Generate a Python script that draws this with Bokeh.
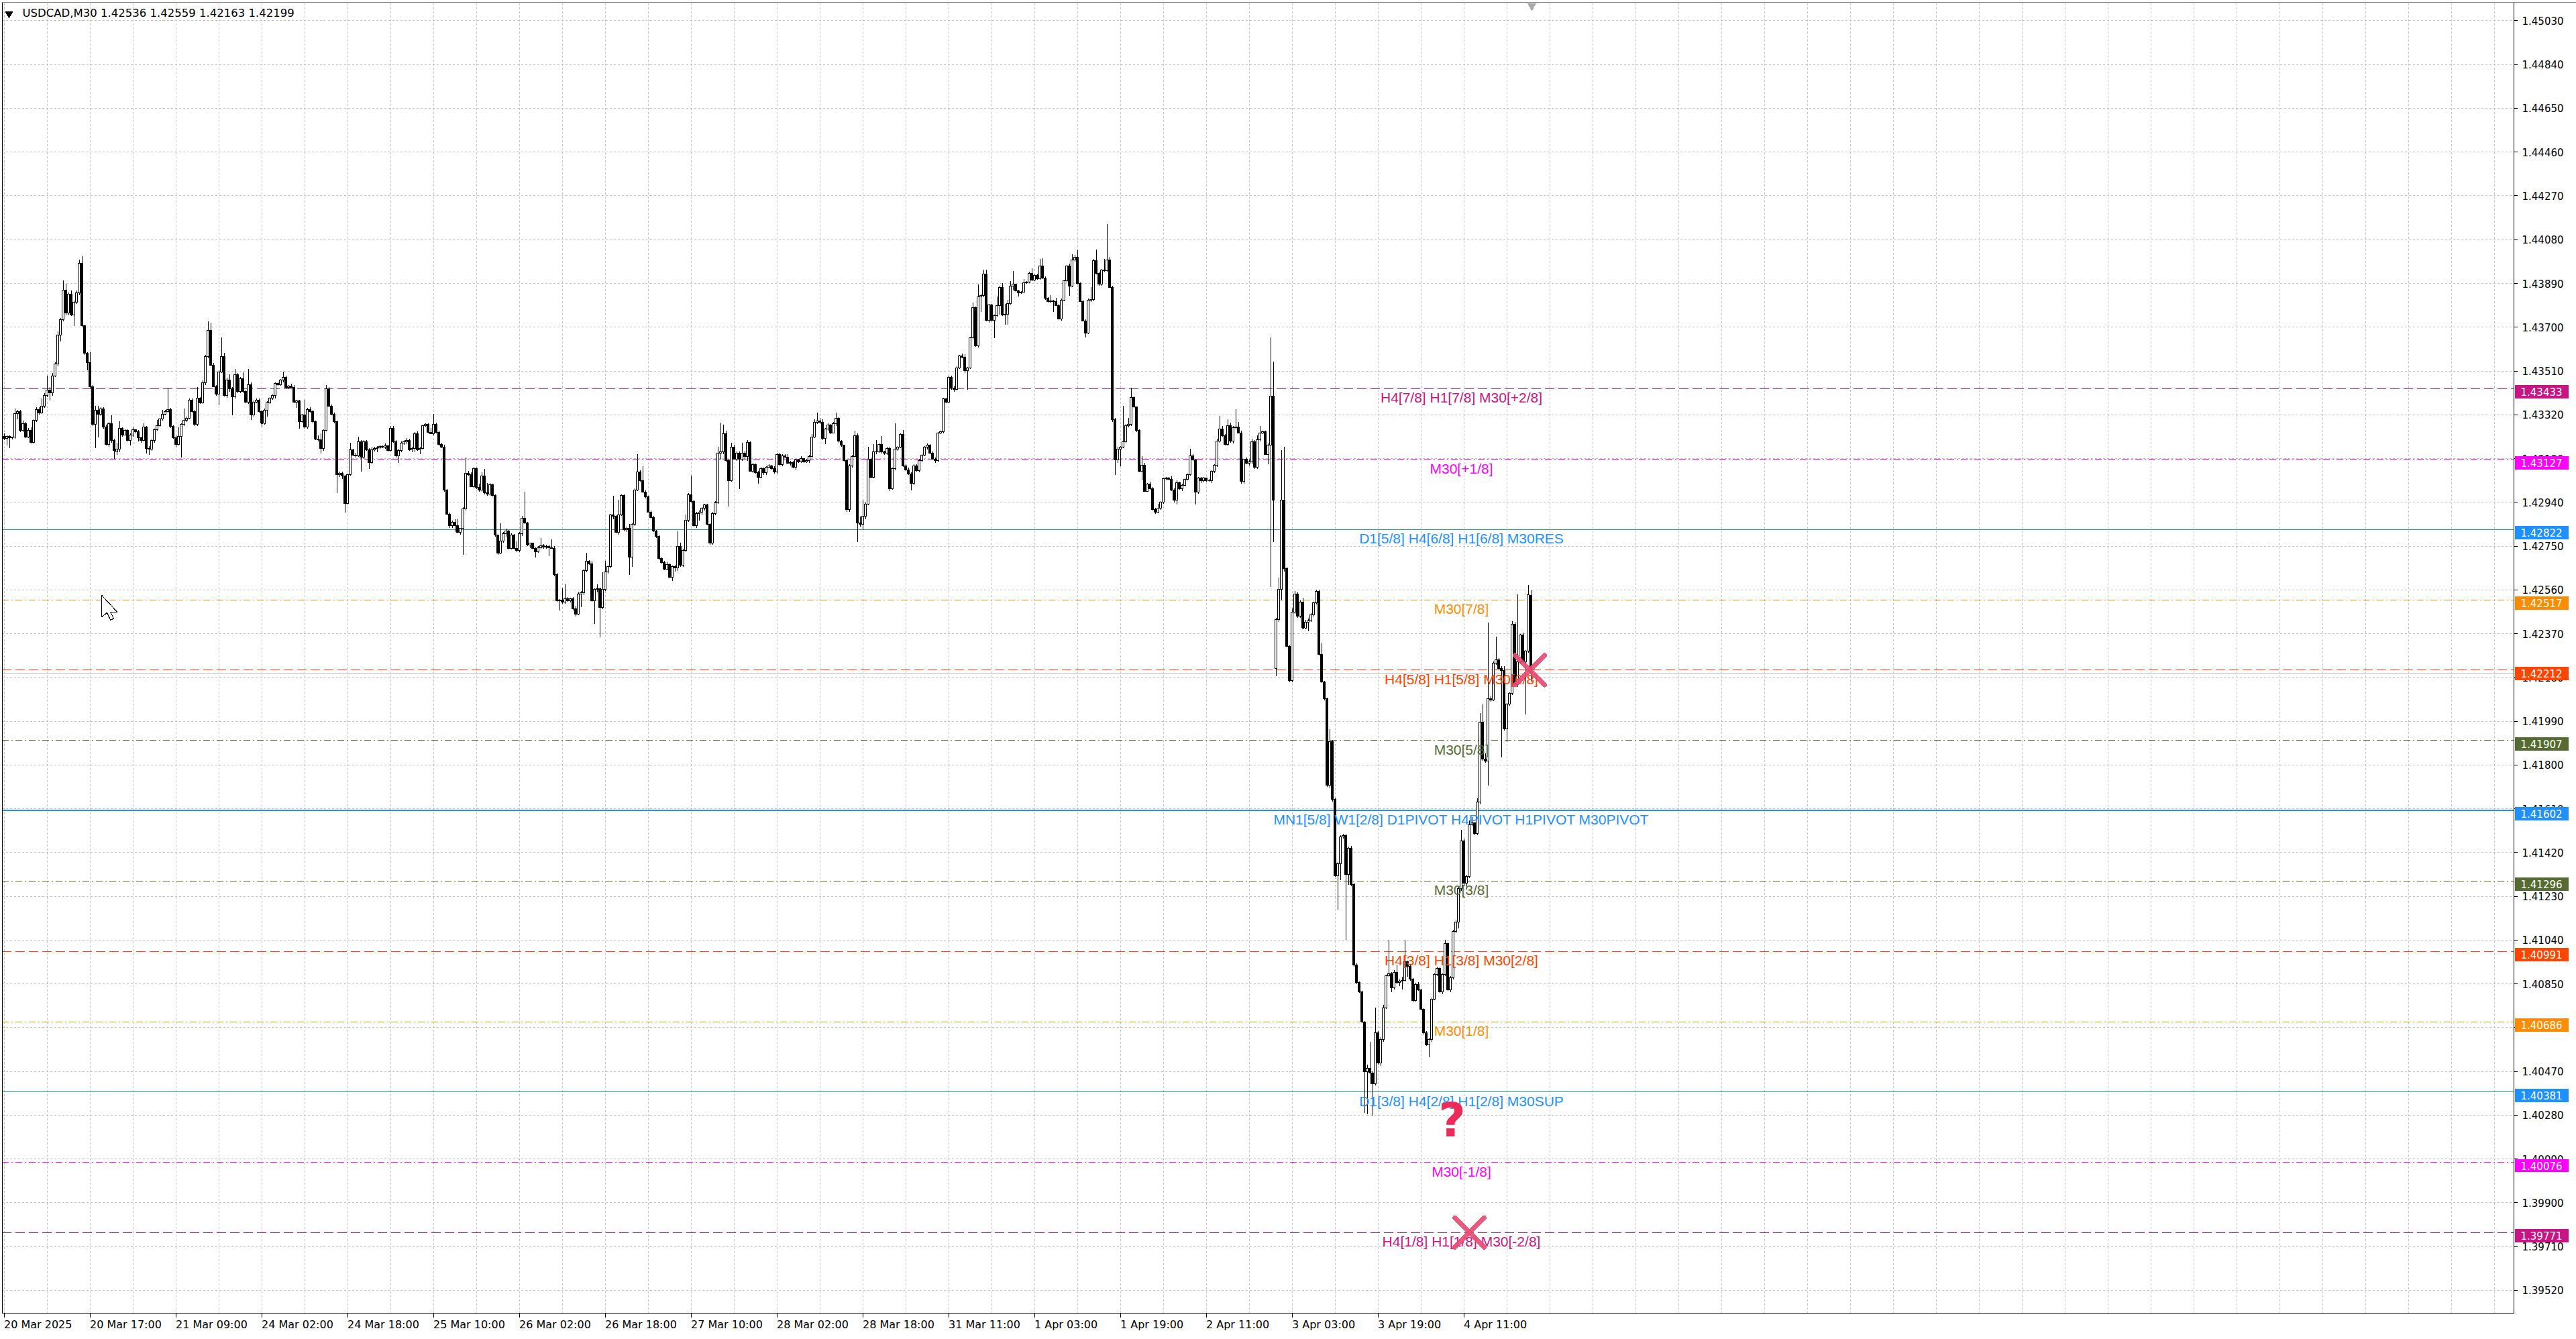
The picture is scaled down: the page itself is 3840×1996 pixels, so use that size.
import numpy as np
from bokeh.plotting import figure
from bokeh.models import (Range1d, FixedTicker, PrintfTickFormatter, Span, Label,
                          ColumnDataSource, BoxAnnotation, InlineStyleSheet)
from bokeh.core.properties import value
from bokeh.embed import file_html
from bokeh.resources import INLINE

# ---------------- data ----------------
TITLE = "USDCAD,M30  1.42536 1.42559 1.42163 1.42199"

# M30 bars, prices in points above 1.40000 (1 point = 0.00001)
BASE_PRICE = 1.40000
POINT = 0.00001

open_pts = [
    3226, 3218, 3226, 3220, 3223, 3326, 3333, 3253, 3283, 3224,
    3253, 3200, 3295, 3344, 3329, 3358, 3403, 3426, 3415, 3489,
    3541, 3666, 3732, 3860, 3763, 3843, 3752, 3809, 3849, 3977,
    3706, 3586, 3546, 3443, 3278, 3341, 3323, 3346, 3266, 3192,
    3283, 3209, 3160, 3170, 3261, 3232, 3252, 3209, 3232, 3255,
    3246, 3221, 3209, 3266, 3175, 3170, 3209, 3255, 3272, 3301,
    3323, 3335, 3344, 3269, 3221, 3192, 3225, 3278, 3295, 3306,
    3383, 3335, 3278, 3392, 3373, 3458, 3573, 3687, 3535, 3443,
    3409, 3506, 3573, 3403, 3470, 3432, 3398, 3495, 3420, 3478,
    3420, 3375, 3450, 3318, 3375, 3383, 3335, 3283, 3341, 3373,
    3392, 3403, 3455, 3449, 3470, 3483, 3438, 3446, 3440, 3375,
    3381, 3291, 3318, 3266, 3344, 3333, 3289, 3215, 3212, 3175,
    3253, 3432, 3358, 3323, 3289, 3061, 3067, 3055, 2935, 3061,
    3169, 3146, 3143, 3204, 3135, 3204, 3169, 3112, 3169, 3173,
    3177, 3184, 3180, 3186, 3164, 3261, 3204, 3141, 3166, 3198,
    3204, 3209, 3169, 3175, 3238, 3169, 3175, 3272, 3278, 3244,
    3238, 3278, 3244, 3192, 3181, 2992, 2889, 2838, 2855, 2838,
    2809, 2827, 2912, 3067, 3061, 3009, 3086, 3004, 2992, 3055,
    2981, 2975, 3017, 2969, 2798, 2720, 2773, 2803, 2815, 2740,
    2797, 2740, 2732, 2803, 2872, 2850, 2756, 2762, 2741, 2726,
    2744, 2752, 2746, 2750, 2744, 2741, 2626, 2513, 2517, 2506,
    2522, 2513, 2522, 2478, 2454, 2543, 2549, 2643, 2685, 2673,
    2513, 2561, 2566, 2484, 2561, 2637, 2661, 2886, 2880, 2809,
    2886, 2969, 2821, 2827, 2702, 2844, 2994, 3072, 3034, 2986,
    2963, 2898, 2874, 2815, 2791, 2697, 2679, 2649, 2671, 2614,
    2661, 2655, 2750, 2667, 2732, 2862, 2974, 2945, 2838, 2892,
    2898, 2915, 2928, 2844, 2762, 2892, 2939, 3152, 3158, 3238,
    3122, 3034, 3181, 3128, 3152, 3128, 3152, 3140, 3199, 3075,
    3104, 3069, 3049, 3087, 3069, 3093, 3098, 3087, 3071, 3148,
    3104, 3143, 3136, 3110, 3113, 3093, 3124, 3116, 3130, 3116,
    3122, 3140, 3223, 3288, 3294, 3288, 3217, 3258, 3276, 3240,
    3282, 3305, 3205, 3187, 3122, 2909, 3098, 3140, 3229, 2850,
    2844, 2880, 2933, 3128, 3049, 3158, 3160, 3191, 3158, 3152,
    3175, 3000, 3087, 3172, 3181, 3234, 3098, 3081, 3063, 3022,
    3098, 3077, 3122, 3146, 3181, 3187, 3152, 3128, 3122, 3240,
    3246, 3388, 3376, 3483, 3435, 3430, 3524, 3577, 3571, 3512,
    3522, 3654, 3784, 3619, 3831, 3837, 3932, 3731, 3796, 3731,
    3750, 3793, 3873, 3754, 3756, 3802, 3879, 3886, 3857, 3850,
    3853, 3892, 3895, 3935, 3905, 3924, 3909, 3966, 3912, 3825,
    3812, 3815, 3812, 3795, 3737, 3818, 3901, 3966, 3879, 3992,
    4005, 3890, 3812, 3728, 3675, 3818, 3821, 3989, 3935, 3886,
    3948, 3944, 3993, 3873, 3298, 3123, 3171, 3181, 3203, 3274,
    3278, 3395, 3353, 3252, 3074, 3100, 2988, 3020, 3000, 2910,
    2897, 2914, 2940, 3042, 3046, 3040, 2994, 2949, 3026, 3000,
    3013, 3039, 3059, 3143, 3123, 2984, 3046, 3033, 3046, 3035,
    3035, 3074, 3100, 3207, 3259, 3229, 3190, 3272, 3207, 3263,
    3268, 3242, 3030, 3126, 3110, 3117, 3203, 3091, 3211, 3240,
    3246, 3149, 3188, 3401, 2218, 2432, 2561, 2949, 2652, 2315,
    2167, 2464, 2542, 2445, 2508, 2395, 2420, 2426, 2452, 2503,
    2554, 2280, 2160, 2087, 1713, 1902, 1651, 1320, 1371, 1487,
    1494, 1325, 1440, 1282, 932, 855, 816, 686, 470, 485,
    462, 416, 639, 508, 608, 747, 886, 893, 832, 901,
    855, 863, 866, 947, 927, 870, 778, 847, 824, 740,
    639, 585, 608, 783, 890, 917, 816, 890, 1024, 824,
    878, 1078, 1117, 1263, 1471, 1286, 1317, 1540, 1548, 1502,
    1640, 1987, 1825, 1818, 2087, 2083, 2241, 2257, 2218, 2210,
    1956, 2064, 2110, 2411, 2149, 2249, 2365, 2249, 2295, 2536,
]

high_pts = [
    3238, 3230, 3232, 3226, 3346, 3340, 3340, 3295, 3290, 3262,
    3266, 3300, 3352, 3352, 3392, 3415, 3491, 3440, 3500, 3548,
    3683, 3740, 3903, 3889, 3850, 3860, 3815, 3860, 3992, 4009,
    3712, 3592, 3592, 3450, 3358, 3358, 3352, 3352, 3278, 3290,
    3318, 3215, 3198, 3291, 3266, 3258, 3256, 3238, 3266, 3258,
    3255, 3226, 3283, 3272, 3185, 3215, 3261, 3298, 3306, 3341,
    3340, 3438, 3350, 3275, 3230, 3266, 3283, 3346, 3312, 3392,
    3390, 3340, 3440, 3398, 3470, 3580, 3726, 3720, 3546, 3450,
    3512, 3657, 3590, 3480, 3495, 3440, 3518, 3500, 3483, 3503,
    3426, 3520, 3460, 3381, 3392, 3392, 3340, 3346, 3380, 3398,
    3409, 3460, 3462, 3475, 3506, 3490, 3450, 3455, 3450, 3385,
    3385, 3325, 3386, 3350, 3352, 3340, 3295, 3232, 3240, 3258,
    3449, 3440, 3365, 3330, 3295, 3072, 3072, 3060, 3066, 3200,
    3172, 3155, 3225, 3210, 3210, 3210, 3175, 3180, 3180, 3185,
    3190, 3188, 3195, 3190, 3270, 3272, 3210, 3172, 3205, 3210,
    3220, 3215, 3180, 3245, 3248, 3180, 3278, 3283, 3283, 3262,
    3323, 3285, 3250, 3198, 3190, 2998, 2895, 2862, 2868, 2866,
    2830, 2920, 3135, 3075, 3070, 3095, 3092, 3020, 3070, 3084,
    3025, 3025, 3020, 2975, 2800, 2850, 2810, 2825, 2820, 2805,
    2803, 2770, 2810, 2880, 2985, 2856, 2765, 2765, 2745, 2750,
    2785, 2760, 2755, 2755, 2779, 2750, 2635, 2520, 2566, 2584,
    2530, 2525, 2530, 2490, 2549, 2555, 2650, 2720, 2690, 2685,
    2566, 2584, 2570, 2637, 2685, 2665, 2890, 2969, 2885, 2951,
    2975, 2975, 2835, 2845, 2850, 3000, 3149, 3080, 3098, 2992,
    2970, 2905, 2880, 2820, 2800, 2702, 2685, 2680, 2675, 2665,
    2668, 2815, 2765, 2740, 2886, 2980, 3057, 2950, 2898, 2905,
    2920, 2935, 2935, 2850, 2900, 2945, 3181, 3285, 3276, 3250,
    3130, 3200, 3190, 3160, 3160, 3199, 3165, 3211, 3205, 3110,
    3108, 3075, 3095, 3090, 3098, 3105, 3102, 3097, 3155, 3155,
    3150, 3150, 3148, 3120, 3120, 3130, 3130, 3140, 3132, 3128,
    3145, 3235, 3300, 3329, 3305, 3300, 3262, 3282, 3280, 3290,
    3329, 3310, 3211, 3190, 3128, 3104, 3145, 3252, 3240, 2878,
    2951, 2940, 3181, 3135, 3193, 3211, 3195, 3229, 3165, 3180,
    3180, 3092, 3282, 3185, 3240, 3255, 3104, 3090, 3070, 3104,
    3104, 3128, 3150, 3185, 3195, 3192, 3162, 3134, 3245, 3250,
    3395, 3395, 3490, 3490, 3445, 3530, 3580, 3585, 3583, 3528,
    3660, 3808, 3790, 3885, 3845, 3950, 3950, 3800, 3802, 3755,
    3834, 3880, 3892, 3802, 3818, 3899, 3944, 3890, 3862, 3856,
    3908, 3899, 3940, 3955, 3930, 3932, 3995, 3998, 3922, 3830,
    3840, 3818, 3828, 3802, 3825, 3905, 3970, 3975, 4017, 4015,
    4034, 3895, 3820, 3735, 3825, 3873, 3995, 4037, 3942, 3952,
    3995, 4147, 4005, 3880, 3307, 3180, 3185, 3358, 3280, 3307,
    3436, 3400, 3355, 3258, 3139, 3110, 3025, 3030, 3005, 2915,
    2935, 2945, 3048, 3050, 3050, 3052, 3000, 3035, 3030, 3020,
    3045, 3065, 3172, 3150, 3130, 3050, 3050, 3050, 3048, 3040,
    3080, 3105, 3215, 3314, 3270, 3235, 3300, 3285, 3270, 3343,
    3290, 3250, 3130, 3135, 3125, 3215, 3210, 3230, 3270, 3252,
    3250, 3195, 3656, 3552, 2440, 2613, 3168, 3181, 2660, 2320,
    2480, 2555, 2550, 2515, 2525, 2430, 2435, 2460, 2510, 2560,
    2560, 2329, 2165, 2092, 1956, 1910, 1655, 1378, 1495, 1500,
    1500, 1445, 1448, 1290, 940, 860, 820, 690, 500, 600,
    470, 747, 645, 620, 760, 890, 1040, 900, 910, 930,
    870, 880, 1040, 950, 935, 875, 855, 858, 830, 745,
    645, 615, 790, 895, 925, 922, 895, 1040, 1030, 885,
    1085, 1125, 1270, 1520, 1480, 1325, 1560, 1575, 1552, 1655,
    2025, 2064, 1850, 2418, 2100, 2250, 2357, 2265, 2230, 2230,
    2070, 2115, 2425, 2420, 2542, 2370, 2375, 2300, 2580, 2559,
]

low_pts = [
    3209, 3186, 3175, 3212, 3215, 3300, 3244, 3245, 3218, 3218,
    3196, 3195, 3290, 3320, 3325, 3350, 3398, 3381, 3403, 3483,
    3530, 3638, 3725, 3752, 3752, 3748, 3706, 3800, 3840, 3700,
    3580, 3512, 3435, 3270, 3175, 3221, 3315, 3260, 3186, 3180,
    3200, 3129, 3146, 3158, 3226, 3230, 3204, 3186, 3226, 3240,
    3204, 3200, 3204, 3152, 3146, 3165, 3198, 3250, 3268, 3295,
    3318, 3330, 3263, 3215, 3181, 3186, 3135, 3272, 3290, 3300,
    3330, 3272, 3272, 3366, 3366, 3450, 3565, 3530, 3440, 3403,
    3363, 3500, 3400, 3395, 3420, 3318, 3390, 3415, 3415, 3415,
    3370, 3366, 3298, 3312, 3370, 3330, 3266, 3278, 3312, 3366,
    3386, 3392, 3445, 3445, 3460, 3432, 3432, 3438, 3370, 3349,
    3261, 3285, 3261, 3260, 3330, 3284, 3210, 3205, 3152, 3165,
    3248, 3352, 3318, 3284, 2981, 3050, 3040, 2895, 2930, 3055,
    3140, 3135, 3138, 3072, 3128, 3165, 3084, 3105, 3160, 3158,
    3172, 3175, 3172, 3160, 3160, 3200, 3135, 3112, 3158, 3190,
    3192, 3165, 3158, 3158, 3165, 3150, 3170, 3268, 3240, 3235,
    3232, 3240, 3185, 3175, 2985, 2885, 2830, 2830, 2812, 2805,
    2800, 2712, 2905, 3055, 3005, 3000, 2998, 2985, 2985, 2975,
    2970, 2970, 2965, 2790, 2712, 2715, 2765, 2790, 2735, 2735,
    2735, 2725, 2725, 2795, 2845, 2750, 2742, 2735, 2702, 2720,
    2740, 2740, 2740, 2708, 2738, 2620, 2510, 2472, 2500, 2500,
    2508, 2505, 2472, 2445, 2450, 2484, 2538, 2638, 2668, 2510,
    2413, 2550, 2354, 2478, 2555, 2630, 2655, 2866, 2805, 2800,
    2880, 2815, 2810, 2626, 2660, 2838, 2990, 3030, 2980, 2958,
    2895, 2870, 2810, 2785, 2690, 2675, 2645, 2645, 2610, 2600,
    2640, 2643, 2660, 2660, 2725, 2855, 2940, 2835, 2830, 2860,
    2885, 2905, 2840, 2755, 2755, 2885, 2935, 3125, 3150, 3115,
    2921, 3030, 3125, 3120, 2998, 3120, 3125, 3120, 3072, 3068,
    3066, 3022, 3045, 3060, 3058, 3088, 3082, 3065, 3065, 3100,
    3098, 3132, 3105, 3100, 3088, 3080, 3112, 3112, 3110, 3112,
    3110, 3135, 3218, 3280, 3280, 3210, 3193, 3250, 3235, 3238,
    3270, 3200, 3180, 3116, 2898, 2900, 3092, 3135, 2767, 2835,
    2820, 2868, 2928, 3045, 3043, 3148, 3155, 3152, 3145, 3145,
    2990, 2994, 3080, 3165, 3175, 3095, 3075, 3060, 2992, 3015,
    3072, 3070, 3115, 3140, 3170, 3150, 3125, 3110, 3115, 3235,
    3240, 3370, 3370, 3430, 3420, 3425, 3518, 3565, 3500, 3430,
    3518, 3648, 3615, 3612, 3765, 3830, 3725, 3720, 3725, 3653,
    3745, 3756, 3750, 3711, 3711, 3798, 3860, 3855, 3834, 3845,
    3850, 3888, 3892, 3900, 3900, 3905, 3905, 3908, 3820, 3808,
    3805, 3767, 3792, 3735, 3728, 3812, 3895, 3837, 3875, 3985,
    3885, 3810, 3725, 3656, 3670, 3810, 3812, 3930, 3880, 3880,
    3940, 3940, 3870, 3290, 3059, 3110, 3097, 3175, 3198, 3265,
    3272, 3350, 3245, 3070, 3035, 2985, 2985, 2995, 2905, 2890,
    2893, 2908, 2935, 3035, 3036, 2990, 2940, 2930, 2995, 2990,
    3008, 3035, 3055, 3120, 2932, 2978, 3025, 3028, 3030, 3030,
    3025, 3068, 3095, 3200, 3225, 3188, 3185, 3200, 3195, 3258,
    3238, 3020, 3020, 3105, 3100, 3105, 3085, 3085, 3205, 3235,
    3145, 3104, 2574, 2768, 2186, 2420, 2515, 2640, 2310, 2160,
    2160, 2455, 2440, 2438, 2390, 2388, 2380, 2420, 2445, 2498,
    2275, 2155, 2080, 1705, 1700, 1640, 1315, 1171, 1300, 1480,
    1040, 1280, 1275, 925, 850, 810, 680, 290, 285, 416,
    277, 410, 500, 495, 600, 740, 880, 815, 825, 850,
    840, 825, 860, 880, 865, 770, 772, 820, 735, 630,
    580, 532, 600, 778, 885, 810, 805, 885, 820, 815,
    870, 1070, 1090, 1255, 1280, 1260, 1310, 1535, 1495, 1495,
    1630, 1820, 1810, 1710, 2075, 2078, 2236, 2215, 1833, 1950,
    1900, 2058, 2105, 2145, 2140, 2240, 2240, 2018, 2288, 2163,
]

close_pts = [
    3218, 3226, 3220, 3223, 3326, 3333, 3253, 3283, 3224, 3253,
    3200, 3295, 3344, 3329, 3358, 3403, 3426, 3415, 3489, 3541,
    3666, 3732, 3860, 3763, 3843, 3752, 3809, 3849, 3977, 3706,
    3586, 3546, 3443, 3278, 3341, 3323, 3346, 3266, 3192, 3283,
    3209, 3164, 3170, 3261, 3232, 3252, 3209, 3232, 3255, 3246,
    3221, 3209, 3266, 3175, 3170, 3209, 3255, 3272, 3301, 3323,
    3335, 3344, 3269, 3221, 3192, 3225, 3278, 3295, 3306, 3383,
    3335, 3278, 3392, 3373, 3458, 3573, 3687, 3535, 3443, 3409,
    3506, 3573, 3403, 3470, 3432, 3398, 3495, 3420, 3478, 3420,
    3375, 3450, 3318, 3375, 3383, 3335, 3283, 3341, 3373, 3392,
    3403, 3455, 3449, 3470, 3483, 3438, 3446, 3440, 3375, 3381,
    3291, 3318, 3266, 3344, 3333, 3289, 3215, 3212, 3175, 3253,
    3432, 3358, 3323, 3289, 3061, 3067, 3055, 2935, 3061, 3169,
    3146, 3143, 3204, 3135, 3204, 3169, 3112, 3169, 3173, 3177,
    3184, 3180, 3186, 3164, 3261, 3204, 3141, 3166, 3198, 3204,
    3209, 3169, 3175, 3238, 3169, 3175, 3272, 3278, 3244, 3238,
    3278, 3244, 3192, 3181, 2992, 2889, 2838, 2855, 2838, 2809,
    2827, 2912, 3067, 3061, 3009, 3086, 3004, 2992, 3055, 2981,
    2975, 3017, 2969, 2798, 2720, 2773, 2803, 2815, 2740, 2797,
    2740, 2732, 2803, 2872, 2850, 2756, 2762, 2741, 2726, 2744,
    2752, 2746, 2750, 2744, 2741, 2626, 2513, 2517, 2506, 2522,
    2513, 2522, 2478, 2454, 2543, 2549, 2643, 2685, 2673, 2513,
    2561, 2566, 2484, 2561, 2637, 2661, 2886, 2880, 2809, 2886,
    2969, 2821, 2827, 2702, 2844, 2994, 3072, 3034, 2986, 2963,
    2898, 2874, 2815, 2791, 2697, 2679, 2649, 2671, 2614, 2661,
    2655, 2750, 2667, 2732, 2862, 2974, 2945, 2838, 2892, 2898,
    2915, 2928, 2844, 2762, 2892, 2939, 3152, 3158, 3238, 3122,
    3034, 3181, 3128, 3152, 3128, 3152, 3140, 3199, 3075, 3104,
    3069, 3049, 3087, 3069, 3093, 3098, 3087, 3071, 3148, 3104,
    3143, 3136, 3110, 3113, 3093, 3124, 3116, 3130, 3116, 3122,
    3140, 3223, 3288, 3294, 3288, 3217, 3258, 3276, 3240, 3282,
    3305, 3205, 3187, 3122, 2909, 3098, 3140, 3229, 2850, 2844,
    2880, 2933, 3128, 3049, 3158, 3160, 3191, 3158, 3152, 3175,
    3000, 3087, 3172, 3181, 3234, 3098, 3081, 3063, 3022, 3098,
    3077, 3122, 3146, 3181, 3187, 3152, 3128, 3122, 3240, 3246,
    3388, 3376, 3483, 3435, 3430, 3524, 3577, 3571, 3512, 3522,
    3654, 3784, 3619, 3831, 3837, 3932, 3731, 3796, 3731, 3750,
    3793, 3873, 3754, 3756, 3802, 3879, 3886, 3857, 3850, 3853,
    3892, 3895, 3935, 3905, 3924, 3909, 3966, 3912, 3825, 3812,
    3815, 3812, 3795, 3737, 3818, 3901, 3966, 3879, 3992, 4005,
    3890, 3812, 3728, 3675, 3818, 3821, 3989, 3935, 3886, 3948,
    3944, 3993, 3873, 3298, 3123, 3171, 3181, 3203, 3274, 3278,
    3395, 3353, 3252, 3074, 3100, 2988, 3020, 3000, 2910, 2897,
    2914, 2940, 3042, 3046, 3040, 2994, 2949, 3026, 3000, 3013,
    3039, 3059, 3143, 3123, 2984, 3046, 3033, 3046, 3035, 3035,
    3074, 3100, 3207, 3259, 3229, 3190, 3272, 3207, 3263, 3268,
    3242, 3030, 3126, 3110, 3117, 3203, 3091, 3211, 3240, 3246,
    3149, 3188, 3401, 2949, 2432, 2561, 2949, 2652, 2315, 2167,
    2464, 2542, 2445, 2508, 2395, 2420, 2426, 2452, 2503, 2554,
    2280, 2160, 2087, 1713, 1902, 1651, 1320, 1371, 1487, 1494,
    1325, 1440, 1282, 932, 855, 816, 686, 470, 485, 462,
    416, 639, 508, 608, 747, 886, 893, 832, 901, 855,
    863, 866, 947, 927, 870, 778, 847, 824, 740, 639,
    585, 608, 783, 890, 917, 816, 890, 1024, 824, 878,
    1078, 1117, 1263, 1471, 1286, 1317, 1540, 1548, 1502, 1640,
    1987, 1825, 1818, 2087, 2083, 2241, 2257, 2218, 2210, 1956,
    2064, 2110, 2411, 2149, 2249, 2365, 2249, 2295, 2539, 2199,
]

# time axis: one label every 32 bars, starting at the first bar
time_labels = [
    "20 Mar 2025", "20 Mar 17:00", "21 Mar 09:00", "24 Mar 02:00", "24 Mar 18:00",
    "25 Mar 10:00", "26 Mar 02:00", "26 Mar 18:00", "27 Mar 10:00", "28 Mar 02:00",
    "28 Mar 18:00", "31 Mar 11:00", "1 Apr 03:00", "1 Apr 19:00", "2 Apr 11:00",
    "3 Apr 03:00", "3 Apr 19:00", "4 Apr 11:00",
]
BARS_PER_LABEL = 32
BARS_PER_VGRID = 16

price_ticks = [
    1.39520, 1.39710, 1.39900, 1.40090, 1.40280, 1.40470, 1.40660, 1.40850,
    1.41040, 1.41230, 1.41420, 1.41610, 1.41800, 1.41990, 1.42180, 1.42370,
    1.42560, 1.42750, 1.42940, 1.43130, 1.43320, 1.43510, 1.43700, 1.43890,
    1.44080, 1.44270, 1.44460, 1.44650, 1.44840, 1.45030,
]

# Murrey Math levels
level_prices = [1.43433, 1.43127, 1.42822, 1.42517, 1.42212, 1.41907, 1.41602,
                1.41296, 1.40991, 1.40686, 1.40381, 1.40076, 1.39771]
level_texts = [
    "H4[7/8] H1[7/8] M30[+2/8]",
    "M30[+1/8]",
    "D1[5/8] H4[6/8] H1[6/8] M30RES",
    "M30[7/8]",
    "H4[5/8] H1[5/8] M30[6/8]",
    "M30[5/8]",
    "MN1[5/8] W1[2/8] D1PIVOT H4PIVOT H1PIVOT M30PIVOT",
    "M30[3/8]",
    "H4[3/8] H1[3/8] M30[2/8]",
    "M30[1/8]",
    "D1[3/8] H4[2/8] H1[2/8] M30SUP",
    "M30[-1/8]",
    "H4[1/8] H1[1/8] M30[-2/8]",
]
bid_price = 1.42199

# ---------------- styles ----------------
VIOLET, MAGENTA, BLUE = "#C71585", "#FF00FF", "#1E90FF"
ORANGE, RED_ORANGE, OLIVE = "#FF8C00", "#FF4500", "#556B2F"
DASH, DASHDOT, SOLID = "14 6", "10 4 2 4", "solid"
level_styles = [
    (VIOLET, DASH, 1), (MAGENTA, DASHDOT, 1), (BLUE, SOLID, 1), (ORANGE, DASHDOT, 1),
    (RED_ORANGE, DASH, 1), (OLIVE, DASHDOT, 1), (BLUE, SOLID, 2), (OLIVE, DASHDOT, 1),
    (RED_ORANGE, DASH, 1), (ORANGE, DASHDOT, 1), (BLUE, SOLID, 1), (MAGENTA, DASHDOT, 1),
    (VIOLET, DASH, 1),
]
UI_FONT = "DejaVu Sans"
OBJ_FONT = "Liberation Sans"

# ---------------- page geometry ----------------
W, H = 3840, 1996
FRAME_L, FRAME_T, FRAME_B = 2, 3, 1960
AXIS_PX = 3747            # price scale line
TAG_L_PX, TAG_R_PX, TAG_TEXT_PX = 3748, 3828, 3757
TAG_ABOVE_PX, TAG_BELOW_PX = 5, 15
BAR_PX = 4.0
X_START = -0.875
REF_PRICE, REF_PY, PX_PER_PRICE = 1.45030, 30.5, 34400.0


def px_to_x(px):
    return X_START + (px - FRAME_L) / BAR_PX


def py_to_price(py):
    return REF_PRICE - (py - REF_PY) / PX_PER_PRICE


n = min(len(open_pts), len(high_pts), len(low_pts), len(close_pts))
o = BASE_PRICE + np.array(open_pts[:n], dtype=float) * POINT
c = BASE_PRICE + np.array(close_pts[:n], dtype=float) * POINT
hi = np.maximum.reduce([BASE_PRICE + np.array(high_pts[:n], dtype=float) * POINT, o, c])
lo = np.minimum.reduce([BASE_PRICE + np.array(low_pts[:n], dtype=float) * POINT, o, c])
idx = np.arange(n)
bull = c >= o

# the frame runs to the window edge; the price scale sits inside it at AXIS_PX
p = figure(
    width=W, height=H,
    x_range=Range1d(X_START, px_to_x(W)),
    y_range=Range1d(py_to_price(FRAME_B), py_to_price(FRAME_T)),
    y_axis_location="right",
    output_backend="svg", toolbar_location=None,
    min_border_left=FRAME_L, min_border_right=0,
    min_border_top=FRAME_T, min_border_bottom=H - FRAME_B,
    background_fill_color="white", border_fill_color="white",
    outline_line_color=None,
)
# pixel-aligned strokes, like a terminal chart
p.stylesheets = [InlineStyleSheet(css=":host { shape-rendering: crispEdges; }")]

# grid
p.xgrid.ticker = FixedTicker(ticks=list(range(0, int(px_to_x(AXIS_PX)) + 1, BARS_PER_VGRID)))
p.ygrid.ticker = FixedTicker(ticks=price_ticks)
for g in (p.xgrid, p.ygrid):
    g.grid_line_color = "#C0C0C0"
    g.grid_line_dash = "3 3"
    g.grid_line_width = 1

# price scale
yax = p.yaxis[0]
yax.fixed_location = px_to_x(AXIS_PX)
yax.ticker = FixedTicker(ticks=price_ticks)
yax.formatter = PrintfTickFormatter(format="%.5f")
yax.major_label_text_font = UI_FONT
yax.major_label_text_font_size = "15px"
yax.major_label_text_color = "black"
yax.major_tick_out = 5
yax.major_tick_in = 0
yax.minor_tick_out = 0
yax.minor_tick_in = 0
yax.major_label_standoff = 7
yax.axis_line_color = "black"
yax.major_tick_line_color = "black"

# time scale: each date text starts at its tick (a tiny negative angle left-aligns it)
time_ticks = [k * BARS_PER_LABEL for k in range(len(time_labels))]
xax = p.xaxis[0]
xax.bounds = (X_START, px_to_x(AXIS_PX))
xax.ticker = FixedTicker(ticks=time_ticks)
xax.major_label_overrides = {t: s for t, s in zip(time_ticks, time_labels)}
xax.major_label_orientation = -1e-4
xax.major_label_text_font = UI_FONT
xax.major_label_text_font_size = "16px"
xax.major_label_text_color = "black"
xax.major_label_standoff = 11
xax.major_tick_out = 6
xax.major_tick_in = 0
xax.minor_tick_out = 0
xax.minor_tick_in = 0
xax.axis_line_color = "black"
xax.major_tick_line_color = "black"

# level lines behind the bars
for price, (col, dash, lw) in zip(level_prices, level_styles):
    p.add_layout(Span(location=price, dimension="width", line_color=col,
                      line_dash=dash, line_width=lw, level="underlay"))
p.add_layout(Span(location=bid_price, dimension="width", line_color="#C0C0C0",
                  line_width=1, level="underlay"))

# blank price-scale strip right of the scale line
p.add_layout(BoxAnnotation(left=px_to_x(AXIS_PX), fill_color="white", fill_alpha=1.0,
                           line_color=None, level="underlay"))

# window borders (left and top)
p.add_layout(Span(location=px_to_x(FRAME_L + 0.5), dimension="height",
                  line_color="black", line_width=1, level="underlay"))
p.add_layout(Span(location=py_to_price(FRAME_T + 0.5), dimension="width",
                  line_color="black", line_width=1, level="underlay"))

# candles
candles = ColumnDataSource(dict(
    x=idx, high=hi, low=lo,
    top=np.maximum(o, c), bottom=np.minimum(o, c),
    fill=np.where(bull, "white", "black"),
))
p.segment(x0="x", y0="low", x1="x", y1="high", source=candles,
          line_color="black", line_width=1)
p.vbar(x="x", width=0.75, top="top", bottom="bottom", source=candles,
       fill_color="fill", line_color="black", line_width=1)

# level captions
LABEL_CENTER_PX = 2178
captions = ColumnDataSource(dict(
    x=[px_to_x(LABEL_CENTER_PX)] * len(level_prices),
    y=level_prices,
    text=level_texts,
    color=[s[0] for s in level_styles],
))
p.text(x="x", y="y", text="text", source=captions, text_color="color",
       text_font=value(OBJ_FONT), text_font_size="21px",
       text_align="center", text_baseline="top", y_offset=2)

# price tags on the scale (drawn above the scale's own labels)
lv = np.array(level_prices)
tags = ColumnDataSource(dict(
    left=[px_to_x(TAG_L_PX)] * len(lv),
    right=[px_to_x(TAG_R_PX)] * len(lv),
    top=lv + TAG_ABOVE_PX / PX_PER_PRICE,
    bottom=lv - TAG_BELOW_PX / PX_PER_PRICE,
    tx=[px_to_x(TAG_TEXT_PX)] * len(lv),
    ty=lv - (TAG_BELOW_PX - TAG_ABOVE_PX) / 2 / PX_PER_PRICE,
    text=[f"{v:.5f}" for v in level_prices],
    color=[s[0] for s in level_styles],
))
p.quad(left="left", right="right", top="top", bottom="bottom", source=tags,
       fill_color="color", line_color=None, level="overlay")
p.text(x="tx", y="ty", text="text", source=tags, text_color="white",
       text_font=value(UI_FONT), text_font_size="15px",
       text_align="left", text_baseline="middle", level="overlay")

# signal marks: crosses on M30[6/8] and M30[-2/8], question mark near the low
cross_marks = [(px_to_x(2280), level_prices[4]), (px_to_x(2190), level_prices[12])]
half_w, half_h = 22 / BAR_PX, 22 / PX_PER_PRICE
x0s, y0s, x1s, y1s = [], [], [], []
for cx, cy in cross_marks:
    x0s += [cx - half_w, cx - half_w]
    y0s += [cy - half_h, cy + half_h]
    x1s += [cx + half_w, cx + half_w]
    y1s += [cy + half_h, cy - half_h]
p.segment(x0=x0s, y0=y0s, x1=x1s, y1=y1s, line_color="#E94C72",
          line_width=7, line_cap="round", line_alpha=0.92)
p.text(x=[px_to_x(2164)], y=[py_to_price(1672)], text=["?"],
       text_color="#EC2B58", text_font=value(UI_FONT), text_font_style="bold",
       text_font_size="70px", text_align="center", text_baseline="middle")

# symbol header
p.scatter(x=[px_to_x(13)], y=[py_to_price(20)], marker="inverted_triangle",
          size=11, color="black")
p.add_layout(Label(x=px_to_x(33), y=py_to_price(10), text=TITLE,
                   text_font=UI_FONT, text_font_size="16.5px", text_color="black",
                   text_align="left", text_baseline="top"))

# chart shift marker at the top edge
p.scatter(x=[px_to_x(2283)], y=[py_to_price(8)], marker="inverted_triangle",
          size=12, color="#A9A9A9")

# mouse pointer
tip_px, tip_py = 151, 888
arrow = [(0, 0), (0, 33), (8, 26), (13, 37), (18, 35), (13, 25), (23, 25)]
p.patch(x=[px_to_x(tip_px + dx) for dx, _ in arrow],
        y=[py_to_price(tip_py + dy) for _, dy in arrow],
        fill_color="white", line_color="black", line_width=1.2)

open("out.html", "w").write(file_html(p, INLINE))
